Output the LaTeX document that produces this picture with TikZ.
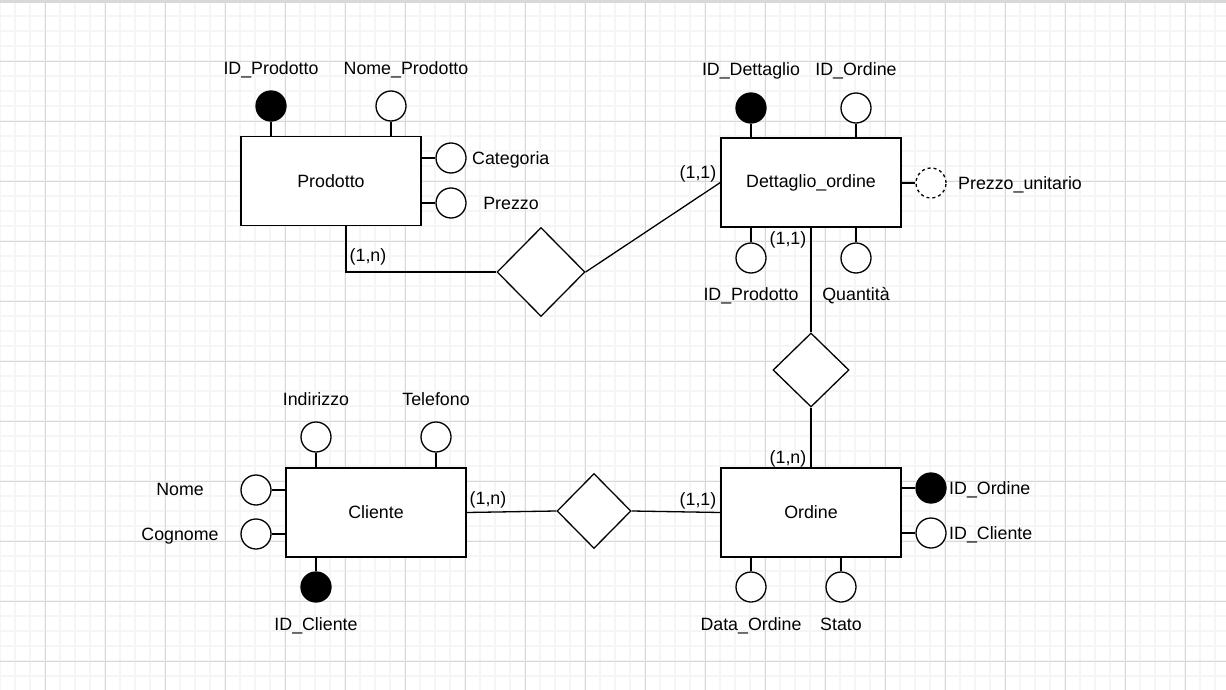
\documentclass[tikz,border=0pt]{standalone}
\usepackage{fontspec}
\setmainfont{Liberation Sans}
\usepackage{xcolor}
\usetikzlibrary{shapes.geometric}
\definecolor{gridmin}{HTML}{F5F5F5}
\definecolor{gridmaj}{HTML}{D8D8D8}
\tikzset{
  entita/.style={draw,fill=white,line width=1.3pt,minimum width=180pt,minimum height=89pt,inner sep=0pt},
  attr/.style={draw,circle,fill=white,line width=1.3pt,minimum size=30pt,inner sep=0pt},
  chiave/.style={attr,fill=black},
  derivato/.style={attr,dash pattern=on 3pt off 3pt},
  relaz/.style={draw,diamond,fill=white,line width=1.3pt,inner sep=0pt},
  conn/.style={line width=1.3pt},
  nome/.style={inner sep=1pt,text height=16.6pt,text depth=3.8pt}
}
\begin{document}
\begin{tikzpicture}[x=1pt,y=-1pt,font=\fontsize{17.8pt}{21pt}\selectfont]
			\useasboundingbox (0,0) rectangle (1226,690);
			\fill[white] (0,0) rectangle (1226,690);
			% griglia
			\foreach \x in {0,15,...,1225} \draw[gridmin,line width=1.4pt] (\x,0) -- (\x,690);
			\foreach \y in {1,16,...,690} \draw[gridmin,line width=1.4pt] (0,\y) -- (1226,\y);
			\foreach \x in {45,105,...,1225} \draw[gridmaj,line width=0.9pt] (\x,0) -- (\x,690);
			\foreach \y in {1,61,...,690} \draw[gridmaj,line width=0.9pt] (0,\y) -- (1226,\y);
			\fill[gridmaj] (0,0) rectangle (1226,3);
			
			% entita
			\node[entita] (prodotto) at (331,181) {Prodotto};
			\node[entita] (dettaglio) at (811,182.5) {Dettaglio\_ordine};
			\node[entita] (ordine) at (811,512.5) {Ordine};
			\node[entita] (cliente) at (376,512.5) {Cliente};
			
			% relazioni
			\node[relaz,minimum width=88pt,minimum height=89pt] (rel1) at (541,272) {};
			\node[relaz,minimum width=76pt,minimum height=74pt] (rel2) at (811,370) {};
			\node[relaz,minimum width=74pt,minimum height=75pt] (rel3) at (594,511) {};
			
			% attributi Prodotto
			\node[chiave] (idprod) at (271,106) {};
			\node[attr] (nomeprod) at (391,106) {};
			\node[attr] (categoria) at (451,158) {};
			\node[attr] (prezzo) at (451,203) {};
			\node[nome] (tidprod) at (271,68) {ID\_Prodotto};
			\node[nome] (tnomeprod) at (406,68) {Nome\_Prodotto};
			\node[nome,anchor=west] (tcategoria) at (471,158) {Categoria};
			\node[nome] (tprezzo) at (511,203) {Prezzo};
			\draw[conn] (idprod) -- (idprod |- prodotto.north);
			\draw[conn] (nomeprod) -- (nomeprod |- prodotto.north);
			\draw[conn] (categoria) -- (categoria -| prodotto.east);
			\draw[conn] (prezzo) -- (prezzo -| prodotto.east);
			
			% attributi Dettaglio_ordine
			\node[chiave] (iddett) at (751,108) {};
			\node[attr] (idord1) at (856,108) {};
			\node[derivato] (prezzouni) at (931,183) {};
			\node[attr] (idprod2) at (751,258) {};
			\node[attr] (quantita) at (856,258) {};
			\node[nome] (tiddett) at (751,69) {ID\_Dettaglio};
			\node[nome] (tidord1) at (856,69) {ID\_Ordine};
			\node[nome,anchor=west] (tprezzouni) at (957,183) {Prezzo\_unitario};
			\node[nome] (tidprod2) at (751,294) {ID\_Prodotto};
			\node[nome] (tquantita) at (856,294) {Quantità};
			\draw[conn] (iddett) -- (iddett |- dettaglio.north);
			\draw[conn] (idord1) -- (idord1 |- dettaglio.north);
			\draw[conn] (prezzouni) -- (prezzouni -| dettaglio.east);
			\draw[conn] (idprod2) -- (idprod2 |- dettaglio.south);
			\draw[conn] (quantita) -- (quantita |- dettaglio.south);
			
			% attributi Ordine
			\node[chiave] (idord2) at (931,488) {};
			\node[attr] (idcli2) at (931,533) {};
			\node[attr] (dataord) at (751,587) {};
			\node[attr] (stato) at (841,587) {};
			\node[nome,anchor=west] (tidord2) at (948,488) {ID\_Ordine};
			\node[nome,anchor=west] (tidcli2) at (948,533) {ID\_Cliente};
			\node[nome] (tdataord) at (751,624) {Data\_Ordine};
			\node[nome] (tstato) at (841,624) {Stato};
			\draw[conn] (idord2) -- (idord2 -| ordine.east);
			\draw[conn] (idcli2) -- (idcli2 -| ordine.east);
			\draw[conn] (dataord) -- (dataord |- ordine.south);
			\draw[conn] (stato) -- (stato |- ordine.south);
			
			% attributi Cliente
			\node[attr] (indirizzo) at (316,437) {};
			\node[attr] (telefono) at (436,437) {};
			\node[attr] (nomecli) at (256,490) {};
			\node[attr] (cognome) at (256,534) {};
			\node[chiave] (idcli) at (316,587) {};
			\node[nome] (tindirizzo) at (316,399) {Indirizzo};
			\node[nome] (ttelefono) at (436,399) {Telefono};
			\node[nome] (tnomecli) at (180,489) {Nome};
			\node[nome] (tcognome) at (180,534) {Cognome};
			\node[nome] (tidcli) at (316,624) {ID\_Cliente};
			\draw[conn] (indirizzo) -- (indirizzo |- cliente.north);
			\draw[conn] (telefono) -- (telefono |- cliente.north);
			\draw[conn] (nomecli) -- (nomecli -| cliente.west);
			\draw[conn] (cognome) -- (cognome -| cliente.west);
			\draw[conn] (idcli) -- (idcli |- cliente.south);
			
			% collegamenti
			\draw[conn] ([xshift=15pt]prodotto.south) |- (rel1.west);
			\draw[conn] (rel1.east) -- (dettaglio.west);
			\draw[conn] (dettaglio.south) -- (rel2.north);
			\draw[conn] (rel2.south) -- (ordine.north);
			\draw[conn] (cliente.east) -- (rel3.west);
			\draw[conn] (rel3.east) -- (ordine.west);
			
			% cardinalita
			\node[nome] (c1) at (368,255) {(1,n)};
			\node[nome] (c2) at (698,172) {(1,1)};
			\node[nome] (c3) at (788,238) {(1,1)};
			\node[nome] (c4) at (788,457) {(1,n)};
			\node[nome] (c5) at (698,499) {(1,1)};
			\node[nome] (c6) at (488,498) {(1,n)};
		\end{tikzpicture}
\end{document}
